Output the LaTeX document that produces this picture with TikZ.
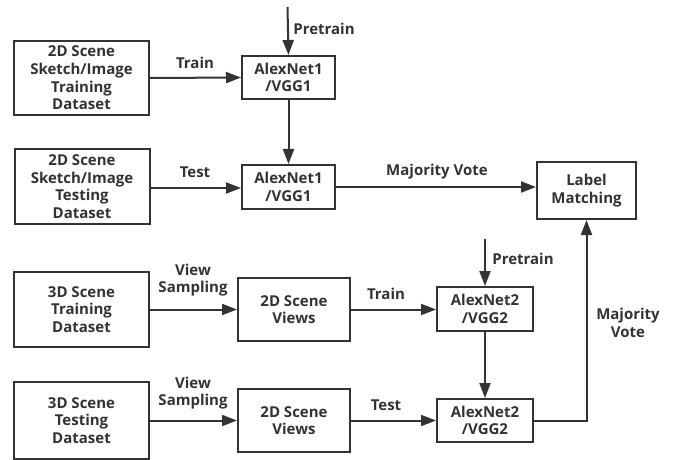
\documentclass[tikz,border=0pt]{standalone}
\usepackage{fontspec}
\setmainfont{Open Sans}
\usetikzlibrary{arrows.meta}
\definecolor{ink}{HTML}{333333}
\tikzset{
  box/.style={draw=ink, line width=2pt, align=center, inner sep=0pt,
    text=ink, font=\bfseries\fontsize{15}{17.6}\selectfont},
  lbl/.style={text=ink, align=center, inner sep=0pt,
    font=\bfseries\fontsize{15}{17.6}\selectfont},
  flow/.style={draw=ink, line width=2pt, -{Triangle[length=15pt,width=11pt]}}
}
\begin{document}
\begin{tikzpicture}[x=1pt,y=-1pt]
\useasboundingbox (0,0) rectangle (673,460);
\fill[white] (0,0) rectangle (673,460);

% sketch / image branch
\node[box, minimum width=135pt, minimum height=74pt] (trainA) at (81.5,78) {2D Scene\\Sketch/Image\\Training\\Dataset};
\node[box, minimum width=135pt, minimum height=75pt] (testA) at (82,186.5) {2D Scene\\Sketch/Image\\Testing\\Dataset};
\node[box, minimum width=93pt, minimum height=43pt] (net1a) at (288.5,77.5) {AlexNet1\\/VGG1};
\node[box, minimum width=93pt, minimum height=44pt] (net1b) at (288.5,187) {AlexNet1\\/VGG1};
\node[box, minimum width=99pt, minimum height=57pt] (match) at (586.5,190.5) {Label\\Matching};

% 3D scene branch
\node[box, minimum width=135pt, minimum height=75pt] (trainB) at (81.5,309.5) {3D Scene\\Training\\Dataset};
\node[box, minimum width=135pt, minimum height=77pt] (testB) at (81.5,420.5) {3D Scene\\Testing\\Dataset};
\node[box, minimum width=112pt, minimum height=63pt] (views1) at (294,309.5) {2D Scene\\Views};
\node[box, minimum width=112pt, minimum height=63pt] (views2) at (294,420.5) {2D Scene\\Views};
\node[box, minimum width=96pt, minimum height=44pt] (net2a) at (485,309) {AlexNet2\\/VGG2};
\node[box, minimum width=96pt, minimum height=43pt] (net2b) at (485,420.5) {AlexNet2\\/VGG2};

\coordinate (pre1) at (287.5,7);
\coordinate (pre2) at (485,239);

% connectors
\draw[flow] (pre1) -- (net1a.north);
\draw[flow] (trainA.east) -- (net1a.west);
\draw[flow] (net1a) -- (net1b);
\draw[flow] (testA.east |- 0,188) -- (net1b.west |- 0,188);
\draw[flow] (net1b.east) -- (net1b.east -| match.west);

\draw[flow] (trainB.east |- views1.west) -- (views1.west);
\draw[flow] (views1.east) -- (views1.east -| net2a.west);
\draw[flow] (pre2) -- (net2a.north);
\draw[flow] (net2a) -- (net2b);
\draw[flow] (testB.east |- views2.west) -- (views2.west);
\draw[flow] (views2.east) -- (views2.east -| net2b.west);
\draw[flow] (net2b.east) -| (match.south);

% edge labels
\node[lbl] (l1) at (195,63) {Train};
\node[lbl] (l2) at (195,172) {Test};
\node[lbl] (l3) at (324,29) {Pretrain};
\node[lbl] (l4) at (437,172) {Majority Vote};
\node[lbl] (l5) at (193,280) {View\\Sampling};
\node[lbl] (l6) at (193,393) {View\\Sampling};
\node[lbl] (l7) at (386,294) {Train};
\node[lbl] (l8) at (386,405) {Test};
\node[lbl] (l9) at (523,259) {Pretrain};
\node[lbl] (l10) at (628,323) {Majority\\Vote};
\end{tikzpicture}
\end{document}
